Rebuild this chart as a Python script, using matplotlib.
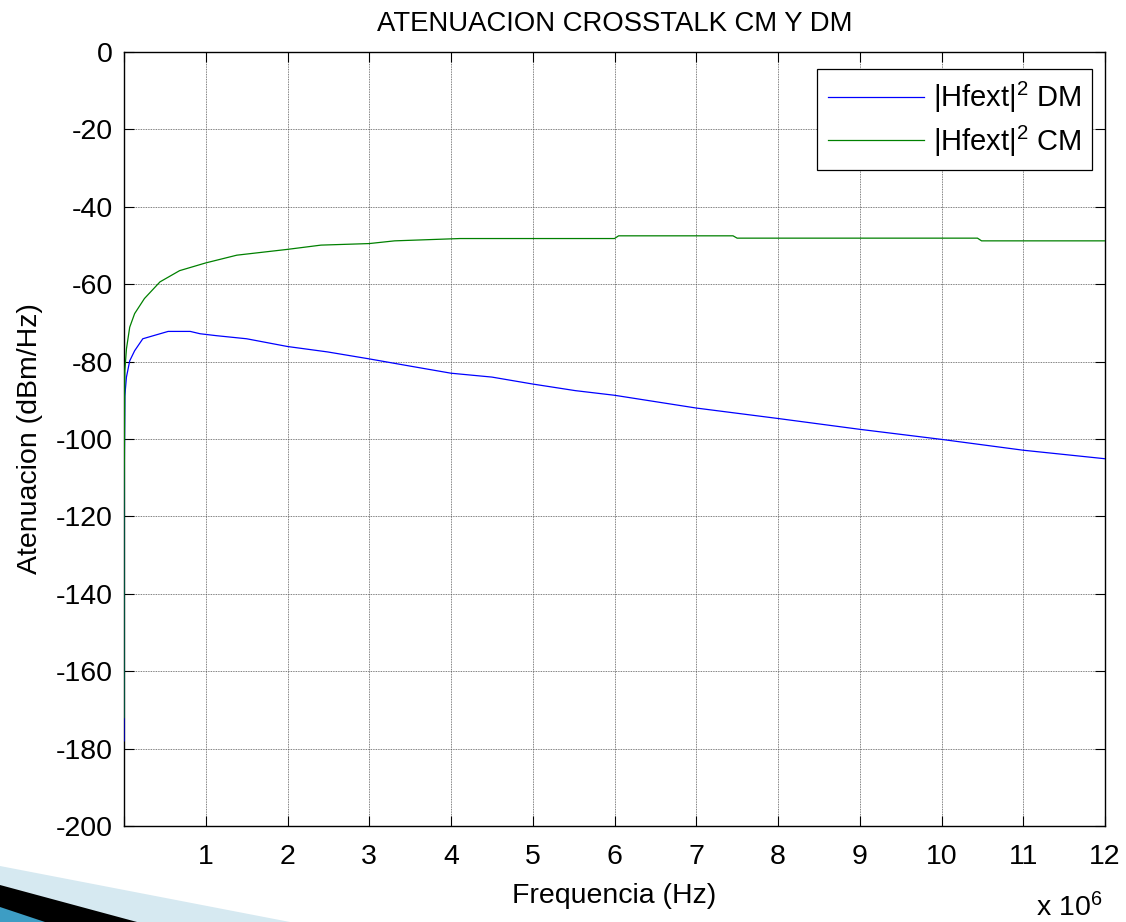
import matplotlib
matplotlib.use("Agg")
import matplotlib.pyplot as plt
from matplotlib.patches import Polygon
import numpy as np

plt.rcParams['font.family'] = ['Liberation Sans', 'DejaVu Sans']
plt.rcParams['mathtext.fontset'] = 'custom'
plt.rcParams['mathtext.rm'] = 'Liberation Sans'
plt.rcParams['mathtext.it'] = 'Liberation Sans:italic'
plt.rcParams['mathtext.bf'] = 'Liberation Sans:bold'

# ---- data (frequency in MHz, attenuation in dBm/Hz) ----
dm_freq = [0.0, 0.0, 0.01, 0.03, 0.07, 0.13, 0.23, 0.36, 0.54, 0.81, 0.93, 1.13, 1.5,
           2.0, 2.49, 3.0, 3.51, 4.0, 4.5, 5.0, 5.52, 6.0, 7.0, 8.0, 9.0, 10.0, 11.0, 12.0]
dm_vals = [-178.0, -120.0, -88.9, -84.0, -79.8, -77.2, -74.1, -73.3, -72.2, -72.2, -72.8,
           -73.3, -74.1, -76.1, -77.5, -79.3, -81.2, -83.0, -84.0, -85.8, -87.5, -88.7,
           -92.0, -94.7, -97.5, -100.1, -102.9, -105.1]

cm_freq = [0.0, 0.0, 0.01, 0.03, 0.07, 0.13, 0.25, 0.44, 0.68, 1.0, 1.38, 2.0, 2.41,
           3.0, 3.31, 4.11, 6.0, 6.05, 7.45, 7.5, 10.44, 10.49, 12.0]
cm_vals = [-172.0, -120.0, -82.4, -76.7, -71.1, -67.6, -63.7, -59.4, -56.5, -54.5, -52.5,
           -51.0, -49.9, -49.5, -48.8, -48.2, -48.2, -47.5, -47.5, -48.1, -48.1, -48.8, -48.8]

x_ticks = [0, 1, 2, 3, 4, 5, 6, 7, 8, 9, 10, 11, 12]
x_ticklabels = ['', '1', '2', '3', '4', '5', '6', '7', '8', '9', '10', '11', '12']
y_ticks = [-200, -180, -160, -140, -120, -100, -80, -60, -40, -20, 0]

W, H = 1126, 922
fig = plt.figure(figsize=(W / 100, H / 100), dpi=100)
fig.patch.set_facecolor('white')

ax = fig.add_axes([124 / W, 1 - 826 / H, (1105 - 124) / W, (826 - 52) / H])

ax.plot(dm_freq, dm_vals, color='#0000ff', lw=0.9, zorder=3, label=r'|Hfext|$^{2}$ DM')
ax.plot(cm_freq, cm_vals, color='#008000', lw=0.9, zorder=3, label=r'|Hfext|$^{2}$ CM')

ax.set_xlim(0, 12)
ax.set_ylim(-200, 0)
ax.set_xticks(x_ticks)
ax.set_xticklabels(x_ticklabels)
ax.set_yticks(y_ticks)
ax.set_yticklabels([str(v) for v in y_ticks])

fs = 20.5
ax.tick_params(axis='both', which='both', direction='in', length=7, width=0.8,
               top=True, right=True, labelsize=fs, colors='black')
ax.tick_params(axis='x', pad=13)
ax.tick_params(axis='y', pad=8)
for s in ax.spines.values():
    s.set_linewidth(1.0)
    s.set_color('black')

ax.grid(True, color='#555555', linestyle=(0, (1, 1)), linewidth=0.6)
ax.set_axisbelow(True)

ax.set_title('ATENUACION CROSSTALK CM Y DM', fontsize=19.8, pad=15)
ax.set_xlabel('Frequencia (Hz)', fontsize=fs, labelpad=9)
ax.set_ylabel('Atenuacion (dBm/Hz)', fontsize=fs, labelpad=9)

leg = ax.legend(loc='upper right', bbox_to_anchor=(0.987, 0.978), borderaxespad=0,
                fontsize=21, frameon=True, fancybox=False, edgecolor='black',
                handlelength=3.3, handletextpad=0.3, borderpad=0.38, labelspacing=0.28,
                framealpha=1)
leg.get_frame().set_linewidth(0.9)

fig.text(1102 / W, 1 - 922 / H, r'x 10$^{6}$', fontsize=fs, ha='right', va='bottom')

# decorative slide swoosh in the lower left corner
def px(points):
    return [(x / W, 1 - y / H) for x, y in points]

fig.patches.append(Polygon(px([(0, 866), (290, 922), (0, 922)]), closed=True,
                           facecolor='#d6e9f1', edgecolor='none', transform=fig.transFigure))
fig.patches.append(Polygon(px([(0, 885), (137, 922), (0, 922)]), closed=True,
                           facecolor='black', edgecolor='none', transform=fig.transFigure))
fig.patches.append(Polygon(px([(0, 907), (45, 922), (0, 922)]), closed=True,
                           facecolor='#3d9dc4', edgecolor='none', transform=fig.transFigure))

fig.savefig('out.png', dpi=100)
